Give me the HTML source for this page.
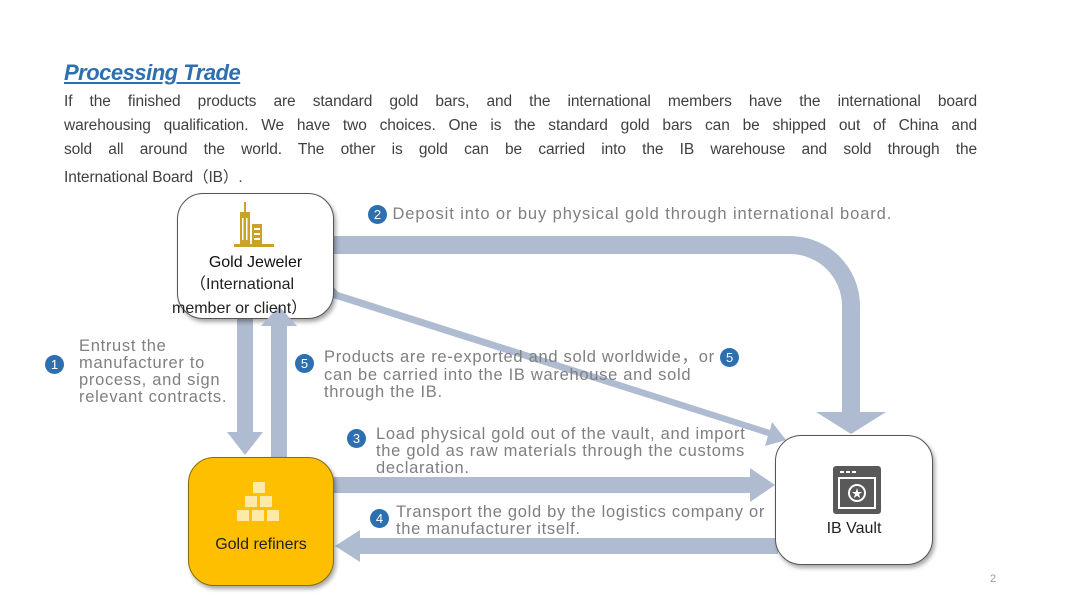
<!DOCTYPE html>
<html><head><meta charset="utf-8"><style>
body{margin:0;width:1080px;height:608px;background:#fff;position:relative;overflow:hidden;font-family:"Liberation Sans","Noto Sans CJK SC",sans-serif}
.t{position:absolute;white-space:nowrap}
.title{left:64px;top:60px;font-size:22px;font-weight:bold;font-style:italic;text-decoration:underline;color:#2e6fb0;letter-spacing:-0.5px}
.p{position:absolute;left:64px;width:913px;font-size:15.5px;color:#404040;text-align:justify;text-align-last:justify;white-space:nowrap;letter-spacing:-0.1px}
.lab{position:absolute;font-size:16.5px;color:#7f7f7f;line-height:17px;white-space:nowrap;letter-spacing:0.7px}
.n{display:inline-block;width:19px;height:19px;border-radius:50%;background:#2e6fb0;color:#fff;font-size:13px;line-height:19px;text-align:center;vertical-align:middle;letter-spacing:0}
.box{position:absolute;border-radius:26px;border:1px solid #555;box-shadow:2px 3px 4px rgba(0,0,0,.35);background:#fff;text-align:center}
</style></head><body>
<div class="t title">Processing Trade</div>
<div class="p" style="top:93px">If the finished products are standard gold bars, and the international members have the international board</div>
<div class="p" style="top:117px">warehousing qualification. We have two choices. One is the standard gold bars can be shipped out of China and</div>
<div class="p" style="top:141px">sold all around the world. The other is gold can be carried into the IB warehouse and sold through the</div>
<div class="p" style="top:165px;text-align-last:left;width:auto">International Board（IB）.</div>

<svg width="1080" height="608" style="position:absolute;left:0;top:0">
<g fill="#aebbd0" stroke="none">
<path d="M333 236 H790 A70 70 0 0 1 860 306 V412 H886 L851 434 L816 412 H842 V306 A52 52 0 0 0 790 254 H333 Z"/>
<path d="M333 286 L333 298 L768 436 L765 446 L786 440 L772 422 L770 430 L338 292 Z"/>
<polygon points="237,300 253,300 253,432 263,432 245,455 227,432 237,432"/>
<polygon points="333,477 750,477 750,468 775,485 750,502 750,493 333,493"/>
<polygon points="778,538 360,538 360,530 335,546 360,562 360,554 778,554"/>
</g>
</svg>

<div class="box" style="left:177px;top:193px;width:155px;height:124px">
<svg width="44" height="48" style="position:absolute;left:56px;top:8px" fill="#c9a227"><rect x="10" y="0" width="2" height="10"/><rect x="6" y="10" width="10" height="32"/><rect x="18" y="22" width="10" height="20"/><rect x="0" y="42" width="40" height="3"/><g fill="#fff"><rect x="8" y="16" width="1.5" height="22"/><rect x="12" y="16" width="1.5" height="22"/><rect x="20" y="26" width="6" height="2"/><rect x="20" y="31" width="6" height="2"/><rect x="20" y="36" width="6" height="2"/></g></svg>
<div class="t" style="left:0;width:155px;top:60px;font-size:16px;color:#111">Gold Jeweler</div>
</div>

<svg width="1080" height="608" style="position:absolute;left:0;top:0">
<polygon fill="#aebbd0" points="271,457 287,457 287,326 297,326 279,306 261,326 271,326"/>
</svg>

<div class="t" style="left:190px;top:270px;font-size:16px;color:#222">（International</div>
<div class="t" style="left:172px;top:294px;font-size:16px;color:#222">member or client）</div>

<div class="box" style="left:188px;top:457px;width:144px;height:127px;background:#fdbf00;border-color:#8a6d00">
<svg width="50" height="48" style="position:absolute;left:47px;top:22px" fill="#fde9a8"><rect x="17" y="2" width="12" height="11"/><rect x="9" y="16" width="12" height="11"/><rect x="24" y="16" width="12" height="11"/><rect x="1" y="30" width="12" height="11"/><rect x="16" y="30" width="12" height="11"/><rect x="31" y="30" width="12" height="11"/></svg>
<div class="t" style="left:0;width:144px;top:78px;font-size:16px;color:#222">Gold refiners</div>
</div>

<div class="box" style="left:775px;top:435px;width:156px;height:128px">
<svg width="48" height="48" style="position:absolute;left:57px;top:30px"><rect width="48" height="48" rx="3" fill="#595959"/><rect x="6" y="12" width="36" height="30" fill="none" stroke="#fff" stroke-width="2"/><rect x="7" y="5" width="4" height="2" fill="#fff"/><rect x="13" y="5" width="4" height="2" fill="#fff"/><rect x="19" y="5" width="4" height="2" fill="#fff"/><circle cx="24" cy="27" r="8" fill="none" stroke="#fff" stroke-width="2"/><text x="24" y="31" font-size="11" fill="#fff" text-anchor="middle">★</text></svg>
<div class="t" style="left:0;width:156px;top:84px;font-size:16px;color:#222">IB Vault</div>
</div>

<div class="lab" style="left:368px;top:205px;letter-spacing:0.9px"><span class="n">2</span> Deposit into or buy physical gold through international board.</div>
<div class="lab" style="left:45px;top:338px"><span class="n" style="position:absolute;left:0;top:17px">1</span><div style="margin-left:34px">Entrust the<br>manufacturer to<br>process, and sign<br>relevant contracts.</div></div>
<div class="lab" style="left:295px;top:348px"><span class="n" style="position:absolute;left:0;top:6px">5</span><div style="margin-left:29px">Products are re-exported and sold worldwide，or <span class="n">5</span><br>can be carried into the IB warehouse and sold<br>through the IB.</div></div>
<div class="lab" style="left:347px;top:426px"><span class="n" style="position:absolute;left:0;top:3px">3</span><div style="margin-left:29px">Load physical gold out of the vault, and import<br>the gold as raw materials through the customs<br>declaration.</div></div>
<div class="lab" style="left:370px;top:504px"><span class="n" style="position:absolute;left:0;top:5px">4</span><div style="margin-left:26px">Transport the gold by the logistics company or<br>the manufacturer itself.</div></div>
<div class="t" style="left:990px;top:573px;font-size:11px;color:#999">2</div>
</body></html>
